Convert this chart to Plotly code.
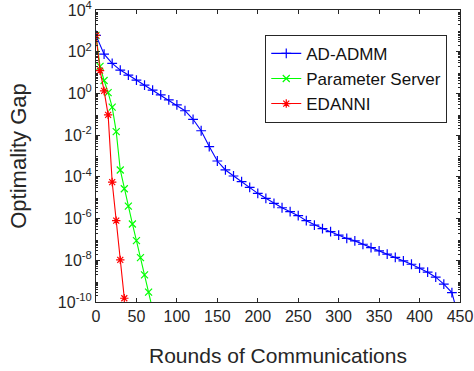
import plotly.graph_objects as go

# ---- data (log10 of optimality gap) ----
admm_rounds = list(range(0, 451, 10))
admm_log_gap = [2.78, 1.88, 1.44, 1.12, 0.88, 0.64, 0.40, 0.16, -0.07, -0.31,
                -0.55, -0.83, -1.24, -1.79, -2.55, -3.24, -3.67, -3.96, -4.23, -4.50,
                -4.79, -5.03, -5.27, -5.48, -5.67, -5.86, -6.10, -6.31, -6.48, -6.63,
                -6.79, -6.95, -7.07, -7.23, -7.39, -7.55, -7.70, -7.86, -8.03, -8.19,
                -8.38, -8.57, -8.81, -9.14, -9.55, -11.0]

ps_rounds = list(range(0, 71, 5))
ps_log_gap = [2.78, 1.30, 0.62, 0.04, -0.66, -1.83, -3.67, -4.57, -5.40, -6.26,
              -7.06, -7.87, -8.70, -9.53, -10.36]

ed_rounds = list(range(0, 36, 5))
ed_log_gap = [2.78, 1.09, 0.12, -1.03, -4.25, -6.10, -7.98, -9.82]

x_ticks = list(range(0, 451, 50))
x_tick_labels = [str(v) for v in x_ticks]
y_exps = list(range(-10, 5, 2))

series = [
    ("AD-ADMM", admm_rounds, admm_log_gap, "#0000ff", "cross-thin"),
    ("Parameter Server", ps_rounds, ps_log_gap, "#00ff00", "x-thin"),
    ("EDANNI", ed_rounds, ed_log_gap, "#ff0000", "asterisk"),
]

fig = go.Figure()
for name, xs, logs, color, sym in series:
    fig.add_trace(go.Scatter(
        x=xs, y=[10 ** v for v in logs], name=name, mode="lines+markers",
        line=dict(color=color, width=1.1),
        marker=dict(symbol=sym, size=7, color=color, line=dict(color=color, width=1.2)),
    ))

minor_vals = [m * 10 ** e for e in range(-10, 4) for m in range(2, 10)]
axis_color = "#262626"
font = "Liberation Sans, Arial, Helvetica, sans-serif"

fig.update_layout(
    width=474, height=371,
    margin=dict(l=96, r=14, t=10, b=69),
    paper_bgcolor="white", plot_bgcolor="white",
    font=dict(family=font, color=axis_color),
    showlegend=True,
    legend=dict(
        x=0.465, y=0.915, xanchor="left", yanchor="top",
        bgcolor="white", bordercolor=axis_color, borderwidth=1,
        font=dict(size=17, color="#111111"),
        tracegroupgap=0, itemwidth=30,
    ),
)
fig.update_xaxes(
    range=[0, 450], tickvals=x_ticks, ticktext=x_tick_labels,
    showline=True, linecolor=axis_color, linewidth=1, mirror="ticks",
    ticks="inside", ticklen=4, tickcolor=axis_color, showgrid=False, zeroline=False,
    tickfont=dict(size=16), ticklabeloverflow="allow", automargin=False,
    title=dict(text="Rounds of Communications", font=dict(size=21), standoff=24),
)
fig.update_yaxes(
    type="log", range=[-10, 4],
    tickvals=[10 ** e for e in y_exps],
    ticktext=["10<sup>%d</sup>" % e for e in y_exps],
    showline=True, linecolor=axis_color, linewidth=1, mirror="ticks",
    ticks="inside", ticklen=4, tickcolor=axis_color, showgrid=False, zeroline=False,
    tickfont=dict(size=16), ticklabeloverflow="allow", automargin=False,
    minor=dict(tickvals=minor_vals, ticks="inside", ticklen=2, tickcolor=axis_color, showgrid=False),
    title=dict(text="Optimality Gap", font=dict(size=22), standoff=25),
)

fig.write_html("out.html")
